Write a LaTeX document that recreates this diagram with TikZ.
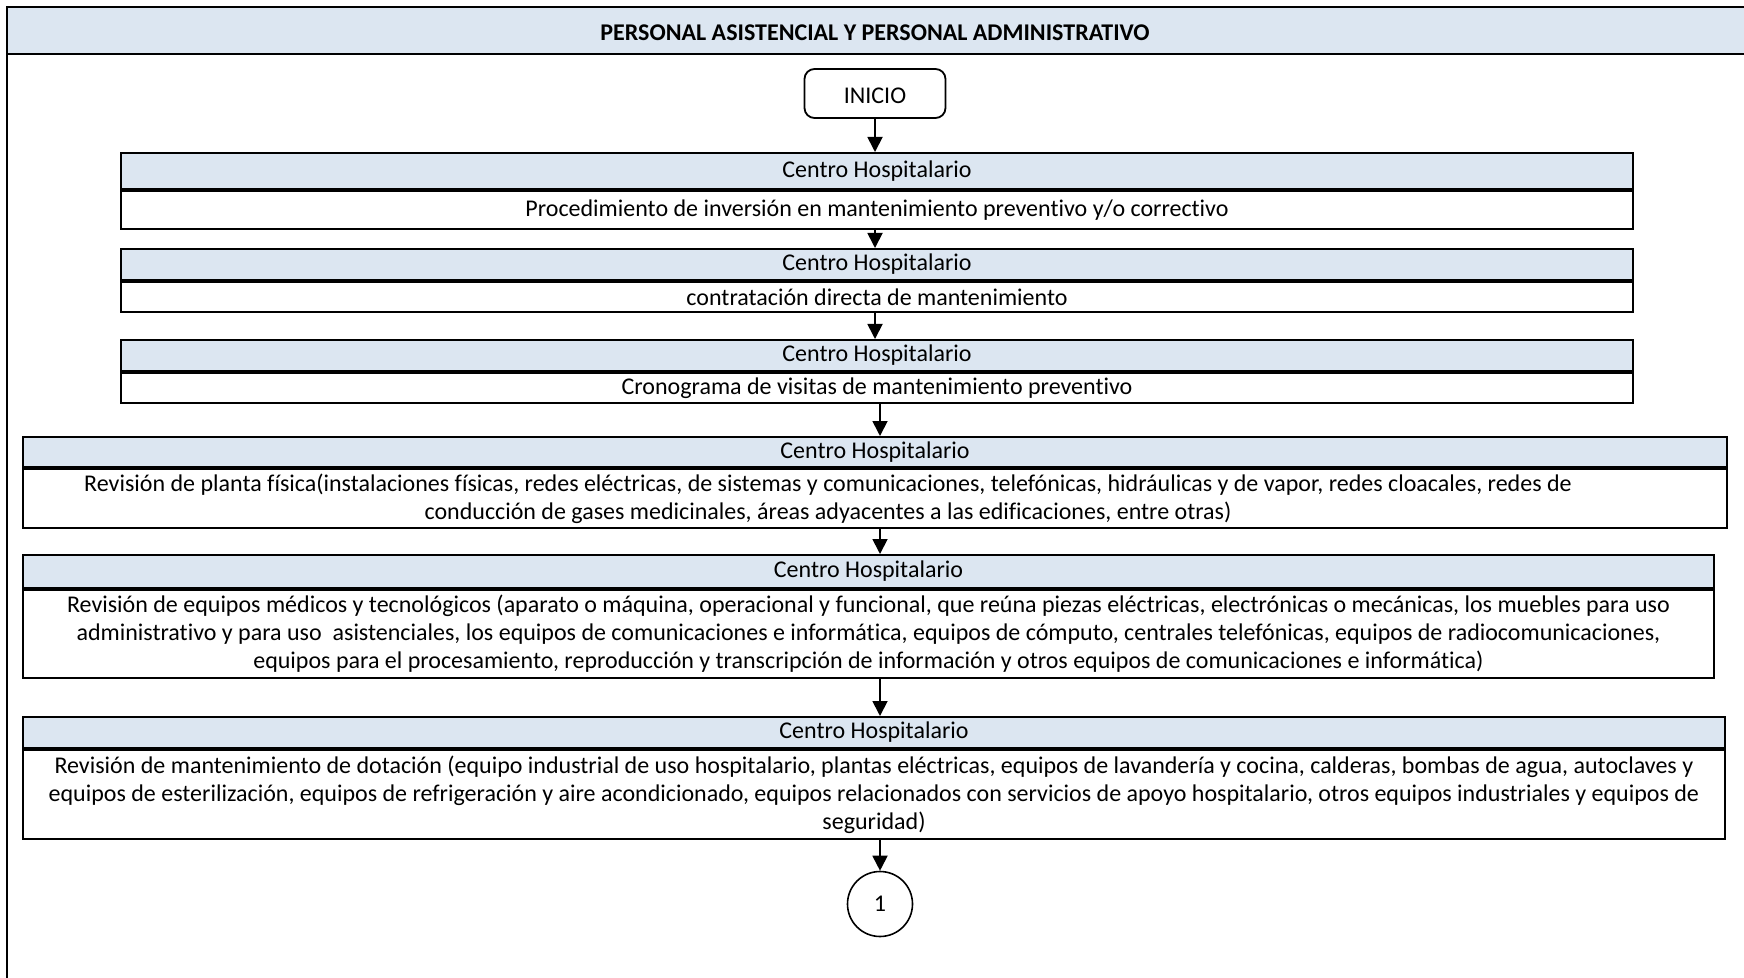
\documentclass[tikz,border=0pt]{standalone}
\usepackage{fontspec}
\setmainfont{Carlito}[Ligatures={NoCommon,NoContextual}]
\usepackage{tikz}
\usetikzlibrary{arrows.meta, positioning}

\definecolor{azulcab}{RGB}{220,230,241}

\tikzset{
  cabecera/.style={draw, line width=1pt, fill=azulcab, inner sep=0pt, anchor=center},
  cuerpo/.style={draw, line width=1pt, fill=white, inner sep=0pt, align=center, anchor=north},
  flecha/.style={-{Triangle[width=7.5pt,length=7.5pt]}, line width=0.9pt},
}

\begin{document}
\begin{tikzpicture}[x=0.5pt, y=-0.5pt, font=\fontsize{12}{14}\selectfont]
  \useasboundingbox (0,0) rectangle (1744,978);

  % marco y titulo
  \fill[azulcab] (7,7) rectangle (1744,54);
  \draw[line width=0.7pt] (1744,7) -- (7,7) -- (7,978);
  \draw[line width=0.7pt] (7,54) -- (1744,54);
  \node[font=\fontsize{12}{14}\selectfont\bfseries] (titulo) at (875,33) {PERSONAL ASISTENCIAL Y PERSONAL ADMINISTRATIVO};

  % inicio
  \node[draw, line width=0.9pt, rounded corners=5pt, minimum width=70.5pt, minimum height=24.5pt, inner sep=0pt, text depth=0pt, text height=10pt] (inicio) at (875,93.5) {INICIO};

  % paso 1
  \node[cabecera, minimum width=756pt, minimum height=18pt] (h1) at (877,171) {Centro Hospitalario};
  \node[cuerpo, minimum width=756pt, minimum height=19pt] (b1) at (h1.south) {Procedimiento de inversión en mantenimiento preventivo y/o correctivo};

  % paso 2
  \node[cabecera, minimum width=756pt, minimum height=15.5pt] (h2) at (877,264.5) {Centro Hospitalario};
  \node[cuerpo, minimum width=756pt, minimum height=15pt] (b2) at (h2.south) {contratación directa de mantenimiento};

  % paso 3
  \node[cabecera, minimum width=756pt, minimum height=15.5pt] (h3) at (877,355.5) {Centro Hospitalario};
  \node[cuerpo, minimum width=756pt, minimum height=15pt] (b3) at (h3.south) {Cronograma de visitas de mantenimiento preventivo};

  % paso 4 (texto algo corrido a la izquierda)
  \node[cabecera, minimum width=852pt, minimum height=15pt] (h4) at (875,452) {Centro Hospitalario};
  \node[cuerpo, minimum width=852pt, minimum height=29.5pt] (b4) at (h4.south) {Revisión de planta física(instalaciones físicas, redes eléctricas, de sistemas y comunicaciones, telefónicas, hidráulicas y de vapor, redes cloacales, redes de\hspace*{47pt}\\conducción de gases medicinales, áreas adyacentes a las edificaciones, entre otras)\hspace*{47pt}};

  % paso 5
  \node[cabecera, minimum width=845.5pt, minimum height=16.5pt] (h5) at (868.5,571.5) {Centro Hospitalario};
  \node[cuerpo, minimum width=845.5pt, minimum height=44pt] (b5) at (h5.south) {Revisión de equipos médicos y tecnológicos (aparato o máquina, operacional y funcional, que reúna piezas eléctricas, electrónicas o mecánicas, los muebles para uso\\administrativo y para uso \ asistenciales, los equipos de comunicaciones e informática, equipos de cómputo, centrales telefónicas, equipos de radiocomunicaciones,\\equipos para el procesamiento, reproducción y transcripción de información y otros equipos de comunicaciones e informática)};

  % paso 6
  \node[cabecera, minimum width=851pt, minimum height=15.5pt] (h6) at (874,732.5) {Centro Hospitalario};
  \node[cuerpo, minimum width=851pt, minimum height=44.5pt] (b6) at (h6.south) {Revisión de mantenimiento de dotación (equipo industrial de uso hospitalario, plantas eléctricas, equipos de lavandería y cocina, calderas, bombas de agua, autoclaves y\\equipos de esterilización, equipos de refrigeración y aire acondicionado, equipos relacionados con servicios de apoyo hospitalario, otros equipos industriales y equipos de\\seguridad)};

  % conector
  \node[draw, circle, line width=0.8pt, minimum size=32.5pt, inner sep=0pt] (uno) at (880,904) {1};

  % flechas
  \draw[flecha] (inicio.south) -- (inicio.south |- h1.north);
  \draw[flecha] (b1.south -| inicio) -- (h2.north -| inicio);
  \draw[flecha] (b2.south -| inicio) -- (h3.north -| inicio);
  \draw[flecha] (b3.south -| uno) -- (h4.north -| uno);
  \draw[flecha] (b4.south -| uno) -- (h5.north -| uno);
  \draw[flecha] (b5.south -| uno) -- (h6.north -| uno);
  \draw[flecha] (b6.south -| uno) -- (uno.north);
\end{tikzpicture}
\end{document}
